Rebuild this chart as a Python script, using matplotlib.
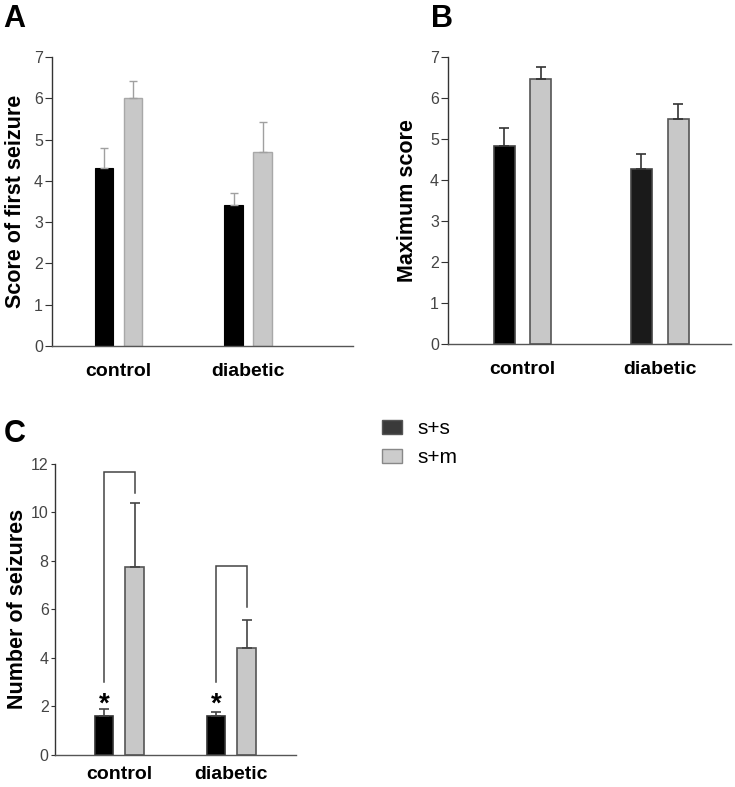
import matplotlib
matplotlib.use("Agg")
import matplotlib.pyplot as plt
from matplotlib.patches import Patch
import numpy as np

plt.rcParams['font.family'] = ['Liberation Sans', 'DejaVu Sans']

categories = ['control', 'diabetic']
series = ['s+s', 's+m']

A_ss = [4.30, 3.41]
A_ss_err = [0.49, 0.30]
A_sm = [6.00, 4.70]
A_sm_err = [0.42, 0.72]

B_ss = [4.84, 4.28]
B_ss_err = [0.43, 0.36]
B_sm = [6.47, 5.49]
B_sm_err = [0.29, 0.37]

C_ss = [1.60, 1.58]
C_ss_err = [0.27, 0.19]
C_sm = [7.73, 4.40]
C_sm_err = [2.67, 1.18]

# significance brackets in panel C (y values)
C_bracket_low = [3.0, 3.0]
C_bracket_top = [11.68, 7.77]
C_bracket_right_end = [10.8, 6.1]
C_star_y = [2.05, 2.05]

fig = plt.figure(figsize=(7.35, 7.87), dpi=100)

def style_axes(ax, ymax, step, ticklen=5):
    for s in ['top', 'right']:
        ax.spines[s].set_visible(False)
    ax.spines['left'].set_color('#333333')
    ax.spines['bottom'].set_color('#555555')
    ax.spines['left'].set_linewidth(1.0)
    ax.spines['bottom'].set_linewidth(1.0)
    ax.set_ylim(0, ymax)
    ax.set_yticks(np.arange(0, ymax + 0.01, step))
    ax.tick_params(axis='y', direction='out', length=ticklen, width=0.8, color='#333333',
                   labelsize=11.5, labelcolor='#444444', pad=1.5)
    ax.tick_params(axis='x', length=0, labelsize=14, pad=12)

x = np.arange(len(categories))

# ---------- Panel A ----------
axA = fig.add_axes([0.0707, 0.5604, 0.4095, 0.3672])
off, w = 0.1115, 0.142
axA.bar(x - off, A_ss, w, color='#000000', edgecolor='#000000', linewidth=0.8,
        yerr=[[0, 0], A_ss_err], error_kw=dict(ecolor='#a0a0a0', elinewidth=1, capsize=3, capthick=1))
axA.bar(x + off, A_sm, w, color='#c8c8c8', edgecolor='#a8a8a8', linewidth=1,
        yerr=[[0, 0], A_sm_err], error_kw=dict(ecolor='#a0a0a0', elinewidth=1, capsize=3, capthick=1))
axA.set_xlim(-0.51, 1.806)
axA.set_xticks(x)
axA.set_xticklabels(categories, fontweight='bold')
style_axes(axA, 7, 1)
axA.set_ylabel('Score of first seizure', fontsize=15.5, fontweight='bold')
axA.yaxis.set_label_coords(-0.087, 0.5)

# ---------- Panel B ----------
axB = fig.add_axes([0.6095, 0.5629, 0.385, 0.3647])
off, w = 0.133, 0.153
axB.bar(x - off, B_ss, w, color=['#000000', '#1a1a1a'], edgecolor='#444444', linewidth=1.2,
        yerr=[[0, 0], B_ss_err], error_kw=dict(ecolor='#333333', elinewidth=1.2, capsize=3.5, capthick=1.2))
axB.bar(x + off, B_sm, w, color='#c8c8c8', edgecolor='#555555', linewidth=1.2,
        yerr=[[0, 0], B_sm_err], error_kw=dict(ecolor='#333333', elinewidth=1.2, capsize=3.5, capthick=1.2))
axB.set_xlim(-0.541, 1.518)
axB.set_xticks(x)
axB.set_xticklabels(categories, fontweight='bold')
style_axes(axB, 7, 1)
axB.set_ylabel('Maximum score', fontsize=15.5, fontweight='bold')
axB.yaxis.set_label_coords(-0.106, 0.5)

# ---------- Panel C ----------
axC = fig.add_axes([0.0748, 0.041, 0.328, 0.3694])
off, w = 0.136, 0.165
axC.bar(x - off, C_ss, w, color='#000000', edgecolor='#333333', linewidth=1.2,
        yerr=[[0, 0], C_ss_err], error_kw=dict(ecolor='#444444', elinewidth=1.2, capsize=3.5, capthick=1.2))
axC.bar(x + off, C_sm, w, color='#c8c8c8', edgecolor='#555555', linewidth=1.2,
        yerr=[[0, 0], C_sm_err], error_kw=dict(ecolor='#444444', elinewidth=1.2, capsize=3.5, capthick=1.2))
for i in range(len(categories)):
    xl, xr = x[i] - off, x[i] + off
    axC.plot([xl, xl, xr, xr], [C_bracket_low[i], C_bracket_top[i], C_bracket_top[i], C_bracket_right_end[i]],
             color='#444444', lw=1.1, solid_joinstyle='miter')
    axC.text(xl, C_star_y[i], '*', ha='center', va='center', fontsize=20, fontweight='bold')
axC.set_xlim(-0.574, 1.578)
axC.set_xticks(x)
axC.set_xticklabels(categories, fontweight='bold')
style_axes(axC, 12, 2, ticklen=3)
axC.tick_params(axis='x', pad=8)
axC.set_ylabel('Number of seizures', fontsize=15.5, fontweight='bold')
axC.yaxis.set_label_coords(-0.112, 0.5)

# ---------- Legend ----------
handles = [Patch(facecolor='#3a3a3a', edgecolor='#555555', label=series[0]),
           Patch(facecolor='#cccccc', edgecolor='#888888', label=series[1])]
fig.legend(handles=handles, loc='upper left', bbox_to_anchor=(0.5197, 0.4676), frameon=False,
           borderaxespad=0, borderpad=0,
           fontsize=15, handlelength=0.95, handleheight=0.65, handletextpad=0.75, labelspacing=0.5)

# ---------- Panel labels ----------
fig.text(0.005, 0.995, 'A', fontsize=22, fontweight='bold', va='top', ha='left')
fig.text(0.586, 0.995, 'B', fontsize=22, fontweight='bold', va='top', ha='left')
fig.text(0.005, 0.468, 'C', fontsize=22, fontweight='bold', va='top', ha='left')

fig.savefig('out.png', dpi=100)
